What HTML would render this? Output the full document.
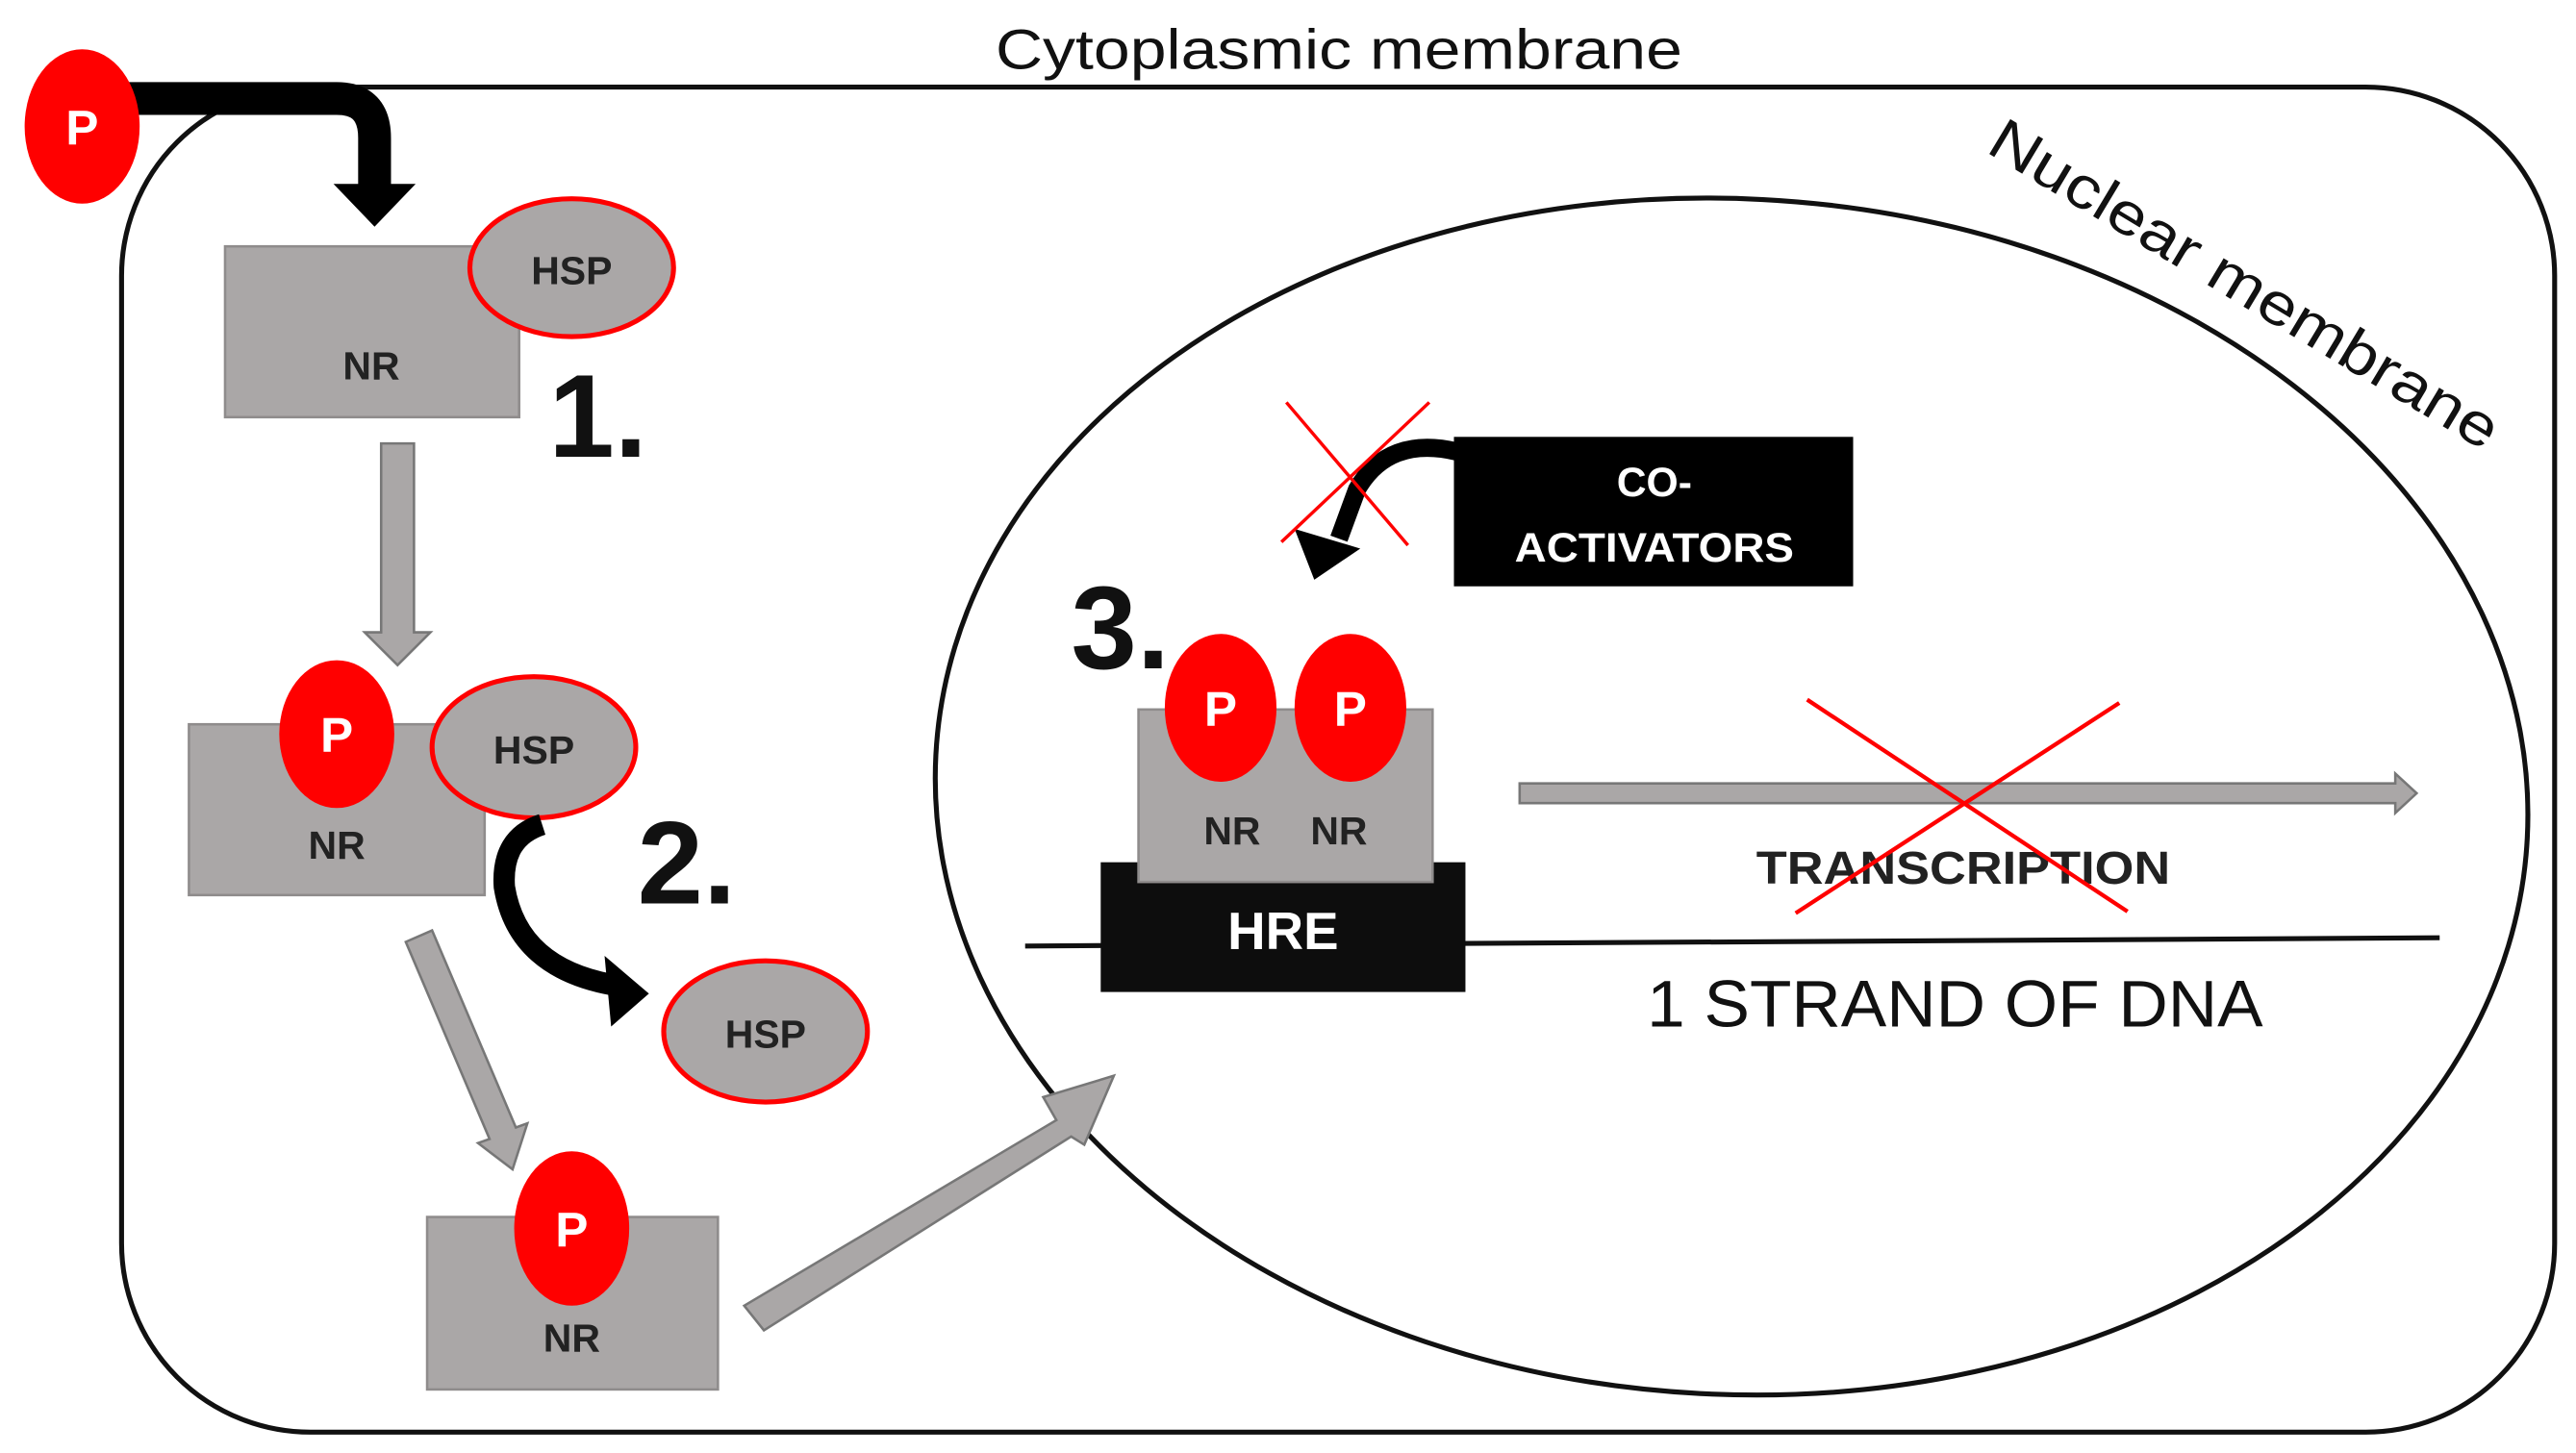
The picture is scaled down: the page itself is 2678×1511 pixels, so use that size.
<!DOCTYPE html>
<html><head><meta charset="utf-8"><style>
html,body{margin:0;padding:0;background:#fff;}
svg{display:block;}
text{font-family:"Liberation Sans",sans-serif;}
</style></head><body>
<svg width="2678" height="1511" viewBox="0 0 1568 884.7" preserveAspectRatio="none" xmlns="http://www.w3.org/2000/svg">
<!-- cell -->
<rect x="74" y="53" width="1481" height="819" rx="115" ry="115" fill="none" stroke="#111" stroke-width="3"/>
<text x="815" y="42" font-size="34" text-anchor="middle" textLength="418" lengthAdjust="spacingAndGlyphs" fill="#111">Cytoplasmic membrane</text>
<!-- nucleus -->
<ellipse cx="1054" cy="485" rx="485" ry="364" transform="rotate(3 1054 485)" fill="none" stroke="#111" stroke-width="3"/>
<text transform="translate(1208,92) rotate(31)" font-size="36" textLength="355" lengthAdjust="spacingAndGlyphs" fill="#111">Nuclear membrane</text>

<!-- top P and arrow -->
<path d="M70 60 H205 Q228 60 228 84 V114" fill="none" stroke="#000" stroke-width="20"/>
<polygon points="203,112 253,112 228,138" fill="#000"/>
<ellipse cx="50" cy="77" rx="35" ry="47" fill="#f00"/>
<text x="50" y="88" font-size="30" font-weight="bold" fill="#fff" text-anchor="middle">P</text>

<!-- NR 1 -->
<rect x="137" y="150" width="179" height="104" fill="#aaa7a7" stroke="#8f8c8c" stroke-width="1.5"/>
<text x="226" y="231" font-size="24" font-weight="bold" fill="#222" text-anchor="middle">NR</text>
<ellipse cx="348" cy="163" rx="62" ry="42" fill="#aaa7a7" stroke="#f00" stroke-width="3"/>
<text x="348" y="173" font-size="24" font-weight="bold" fill="#222" text-anchor="middle">HSP</text>
<text x="364" y="278" font-size="72" font-weight="bold" fill="#111" text-anchor="middle">1.</text>

<!-- down arrow -->
<polygon points="232,270 252,270 252,385 262,385 242,405 222,385 232,385" fill="#aaa7a7" stroke="#777" stroke-width="1.5"/>

<!-- NR 2 -->
<rect x="115" y="441" width="180" height="104" fill="#aaa7a7" stroke="#8f8c8c" stroke-width="1.5"/>
<text x="205" y="523" font-size="24" font-weight="bold" fill="#222" text-anchor="middle">NR</text>
<ellipse cx="205" cy="447" rx="35" ry="45" fill="#f00"/>
<text x="205" y="458" font-size="30" font-weight="bold" fill="#fff" text-anchor="middle">P</text>
<ellipse cx="325" cy="455" rx="62" ry="43" fill="#aaa7a7" stroke="#f00" stroke-width="3"/>
<text x="325" y="465" font-size="24" font-weight="bold" fill="#222" text-anchor="middle">HSP</text>
<!-- curved arrow 2 -->
<path d="M330 502 Q305 510 307 540 Q315 590 375 600" fill="none" stroke="#000" stroke-width="13"/>
<polygon points="368,582 395,605 372,625" fill="#000"/>
<text x="418" y="550" font-size="72" font-weight="bold" fill="#111" text-anchor="middle">2.</text>
<ellipse cx="466" cy="628" rx="62" ry="43" fill="#aaa7a7" stroke="#f00" stroke-width="3"/>
<text x="466" y="638" font-size="24" font-weight="bold" fill="#222" text-anchor="middle">HSP</text>

<!-- diagonal arrow -->
<polygon points="263,566.5 314,686.5 321,684 312,712 291,696 298,693.5 247,573.5" fill="#aaa7a7" stroke="#777" stroke-width="1.5"/>

<!-- NR 3 -->
<rect x="260" y="741" width="177" height="105" fill="#aaa7a7" stroke="#8f8c8c" stroke-width="1.5"/>
<text x="348" y="823" font-size="24" font-weight="bold" fill="#222" text-anchor="middle">NR</text>
<ellipse cx="348" cy="748" rx="35" ry="47" fill="#f00"/>
<text x="348" y="759" font-size="30" font-weight="bold" fill="#fff" text-anchor="middle">P</text>

<!-- big arrow to nucleus -->
<polygon points="453,795 643,682 635,668 678,655 660,697 652,692 465,810" fill="#aaa7a7" stroke="#777" stroke-width="1.5"/>

<!-- coactivators -->
<rect x="885" y="266" width="243" height="91" fill="#000"/>
<text x="1007" y="302" font-size="25" font-weight="bold" fill="#fff" text-anchor="middle">CO-</text>
<text x="1007" y="342" font-size="25" font-weight="bold" fill="#fff" text-anchor="middle" textLength="170" lengthAdjust="spacingAndGlyphs">ACTIVATORS</text>
<path d="M887 275 Q845 265 826 298 L815 328" fill="none" stroke="#000" stroke-width="11"/>
<polygon points="788,322 828,334 800,353" fill="#000"/>
<line x1="783" y1="245" x2="857" y2="332" stroke="#f00" stroke-width="2"/>
<line x1="870" y1="245" x2="780" y2="330" stroke="#f00" stroke-width="2"/>

<text x="682" y="407" font-size="72" font-weight="bold" fill="#111" text-anchor="middle">3.</text>

<!-- DNA line -->
<line x1="624" y1="576" x2="1485" y2="571" stroke="#111" stroke-width="3"/>
<!-- HRE -->
<rect x="670" y="525" width="222" height="79" fill="#0d0d0d"/>
<text x="781" y="578" font-size="32" font-weight="bold" fill="#fff" text-anchor="middle">HRE</text>
<rect x="693" y="432" width="179" height="105" fill="#aaa7a7" stroke="#8f8c8c" stroke-width="1.5"/>
<ellipse cx="743" cy="431" rx="34" ry="45" fill="#f00"/>
<ellipse cx="822" cy="431" rx="34" ry="45" fill="#f00"/>
<text x="743" y="442" font-size="30" font-weight="bold" fill="#fff" text-anchor="middle">P</text>
<text x="822" y="442" font-size="30" font-weight="bold" fill="#fff" text-anchor="middle">P</text>
<text x="750" y="514" font-size="24" font-weight="bold" fill="#222" text-anchor="middle">NR</text>
<text x="815" y="514" font-size="24" font-weight="bold" fill="#222" text-anchor="middle">NR</text>

<!-- transcription arrow -->
<polygon points="925,477 1458,477 1458,471 1471,483 1458,495 1458,489 925,489" fill="#aaa7a7" stroke="#777" stroke-width="1.5"/>
<text x="1195" y="538" font-size="28" font-weight="bold" fill="#222" text-anchor="middle" textLength="252" lengthAdjust="spacingAndGlyphs">TRANSCRIPTION</text>
<line x1="1100" y1="426" x2="1295" y2="555" stroke="#f00" stroke-width="2.5"/>
<line x1="1290" y1="428" x2="1093" y2="556" stroke="#f00" stroke-width="2.5"/>
<text x="1190" y="625" font-size="40" fill="#111" text-anchor="middle" textLength="375" lengthAdjust="spacingAndGlyphs">1 STRAND OF DNA</text>
</svg>
</body></html>
